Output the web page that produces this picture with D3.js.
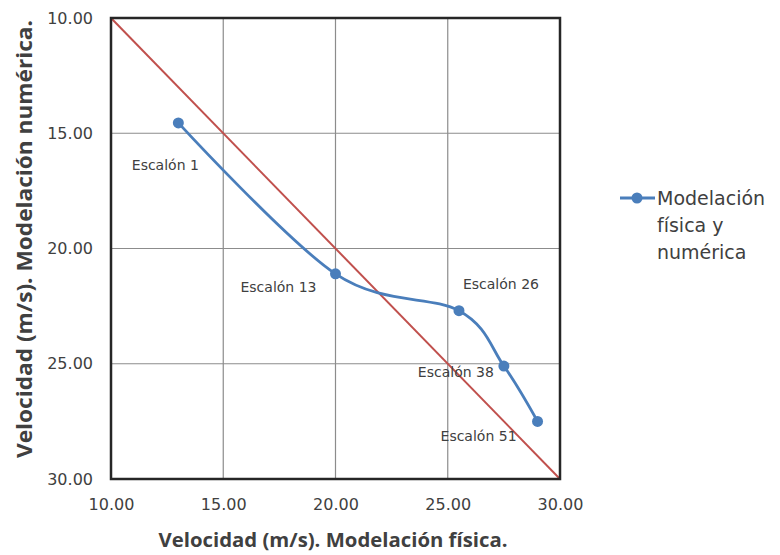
<!DOCTYPE html>
<html>
<head>
<meta charset="utf-8">
<script src="https://cdn.jsdelivr.net/npm/d3@7"></script>
<style>
  body { margin: 0; background: #fff; }
  svg { display: block; font-family: "DejaVu Sans", "Noto Sans", sans-serif; }
</style>
</head>
<body>
<svg id="chart" width="780" height="555"></svg>
<script>
// Velocity comparison: physical model (x) vs numerical model (y)
const pointLabels = ["Escalón 1", "Escalón 13", "Escalón 26", "Escalón 38", "Escalón 51"];
const physicalVelocity = [13.0, 20.0, 25.5, 27.5, 29.0];
const numericVelocity = [14.55, 21.1, 22.7, 25.1, 27.5];
const tickValues = [10, 15, 20, 25, 30];
const identityLine = [10, 30];
const seriesName = ["Modelación", "física y", "numérica"];
const xTitle = "Velocidad (m/s). Modelación física.";
const yTitle = "Velocidad (m/s). Modelación numérica.";

const svg = d3.select("#chart");
const m = { left: 111, right: 560, top: 18, bottom: 479 };

const x = d3.scaleLinear().domain([10, 30]).range([m.left, m.right]);
const y = d3.scaleLinear().domain([10, 30]).range([m.top, m.bottom]);

const textColor = "#404040";
const blue = "#4a7ebb";

// gridlines
const grid = svg.append("g");
grid.selectAll("line.vx").data(tickValues.slice(1, -1)).join("line")
  .attr("x1", d => x(d)).attr("x2", d => x(d))
  .attr("y1", m.top).attr("y2", m.bottom)
  .attr("stroke", "#8c8c8c").attr("stroke-width", 1.2);
grid.selectAll("line.hy").data(tickValues.slice(1, -1)).join("line")
  .attr("y1", d => y(d)).attr("y2", d => y(d))
  .attr("x1", m.left).attr("x2", m.right)
  .attr("stroke", "#8c8c8c").attr("stroke-width", 1.2);

// identity line
svg.append("line")
  .attr("x1", x(identityLine[0])).attr("y1", y(identityLine[0]))
  .attr("x2", x(identityLine[1])).attr("y2", y(identityLine[1]))
  .attr("stroke", "#c0504d").attr("stroke-width", 2);

// plot frame
svg.append("rect")
  .attr("x", m.left).attr("y", m.top)
  .attr("width", m.right - m.left).attr("height", m.bottom - m.top)
  .attr("fill", "none").attr("stroke", "#262626").attr("stroke-width", 2.5);

// axes
const xAxis = d3.axisBottom(x).tickValues(tickValues).tickFormat(d3.format(".2f")).tickSize(0).tickPadding(20);
const gx = svg.append("g").attr("transform", `translate(0,${m.bottom})`).call(xAxis);
gx.select(".domain").remove();
gx.selectAll("text").attr("fill", textColor).style("font-size", "16px")
  .style("font-family", "'DejaVu Sans', sans-serif");

const yAxis = d3.axisLeft(y).tickValues(tickValues).tickFormat(d3.format(".2f")).tickSize(0).tickPadding(18);
const gy = svg.append("g").attr("transform", `translate(${m.left},0)`).call(yAxis);
gy.select(".domain").remove();
gy.selectAll("text").attr("fill", textColor).style("font-size", "16px")
  .style("font-family", "'DejaVu Sans', sans-serif");

// axis titles
svg.append("text")
  .attr("x", 333).attr("y", 547)
  .attr("text-anchor", "middle").attr("fill", textColor)
  .style("font-family", "'Open Sans', sans-serif")
  .style("font-size", "20px").style("font-weight", "bold")
  .attr("textLength", 349).attr("lengthAdjust", "spacingAndGlyphs")
  .text(xTitle);

svg.append("text")
  .attr("transform", `translate(32,239) rotate(-90)`)
  .attr("text-anchor", "middle").attr("fill", textColor)
  .style("font-family", "'Open Sans', sans-serif")
  .style("font-size", "21px").style("font-weight", "bold")
  .attr("textLength", 438).attr("lengthAdjust", "spacingAndGlyphs")
  .text(yTitle);

// series
const pts = physicalVelocity.map((v, i) => ({ x: v, y: numericVelocity[i], label: pointLabels[i] }));
const line = d3.line().x(d => x(d.x)).y(d => y(d.y)).curve(d3.curveCatmullRom.alpha(0));
svg.append("path").datum(pts)
  .attr("d", line).attr("fill", "none")
  .attr("stroke", blue).attr("stroke-width", 2.8);
svg.selectAll("circle.pt").data(pts).join("circle")
  .attr("cx", d => x(d.x)).attr("cy", d => y(d.y)).attr("r", 5.5)
  .attr("fill", blue);

// data labels
const labelOffsets = [[-13, 47], [-57, 18], [42, -22], [-48, 11], [-59, 20]];
svg.selectAll("text.lbl").data(pts).join("text")
  .attr("x", (d, i) => x(d.x) + labelOffsets[i][0])
  .attr("y", (d, i) => y(d.y) + labelOffsets[i][1])
  .attr("text-anchor", "middle").attr("fill", textColor)
  .style("font-size", "14px")
  .text(d => d.label);

// legend
const lg = svg.append("g");
lg.append("line").attr("x1", 620).attr("x2", 655).attr("y1", 198).attr("y2", 198)
  .attr("stroke", blue).attr("stroke-width", 2.8);
lg.append("circle").attr("cx", 637).attr("cy", 198).attr("r", 5.5).attr("fill", blue);
lg.selectAll("text").data(seriesName).join("text")
  .attr("x", 657).attr("y", (d, i) => 205 + i * 27)
  .attr("fill", textColor).style("font-size", "19px")
  .text(d => d);
</script>
</body>
</html>
